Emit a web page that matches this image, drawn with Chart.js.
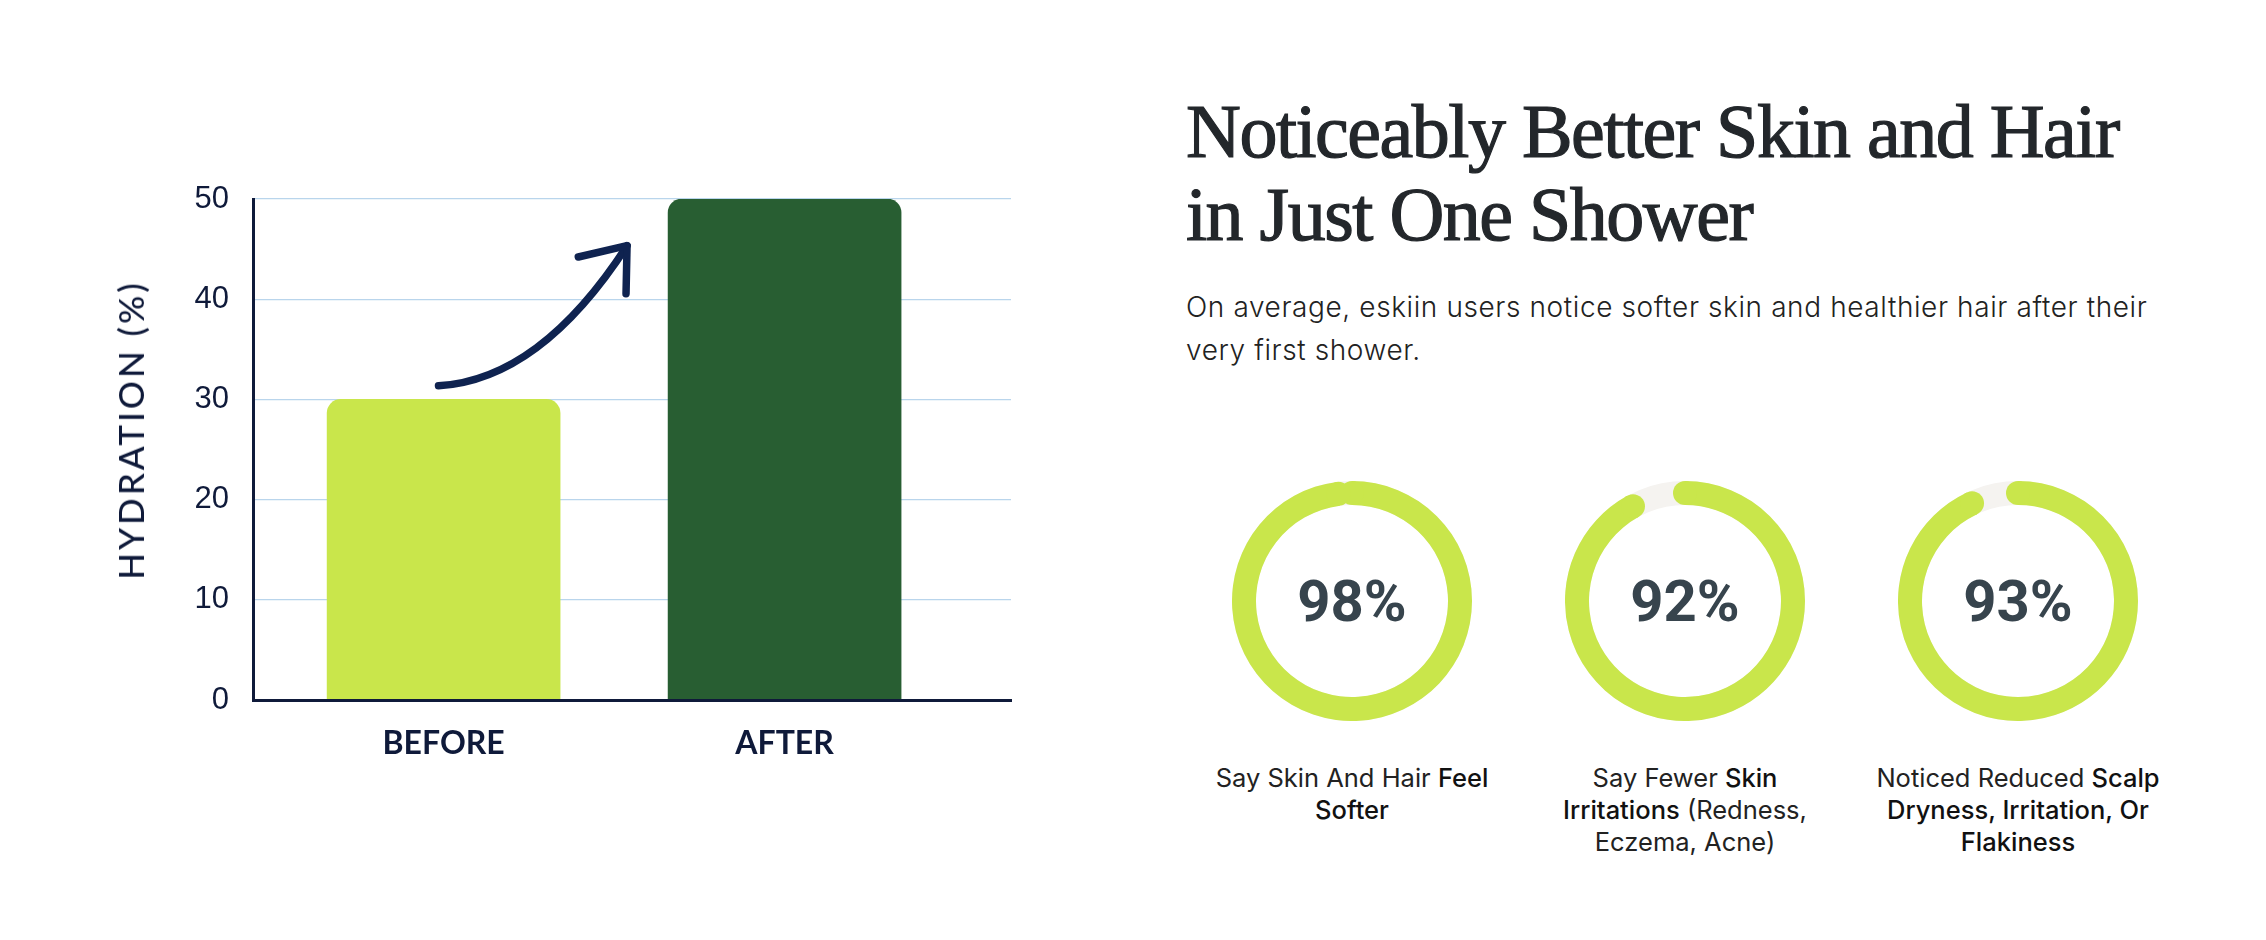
<!DOCTYPE html>
<html>
<head>
<meta charset="utf-8">
<script src="https://cdn.jsdelivr.net/npm/chart.js@4.4.1/dist/chart.umd.min.js"></script>
<style>
  html, body { margin: 0; padding: 0; background: #ffffff; }
  body { width: 2266px; height: 940px; position: relative; overflow: hidden; }
  #barWrap { position: absolute; left: 0; top: 0; width: 1100px; height: 940px; }
  #yTitle {
    position: absolute; left: 130px; top: 430px; transform: translate(-50%, -50%) rotate(-90deg);
    font-family: 'Lato', 'Liberation Sans', sans-serif; font-size: 35px; font-weight: 500;
    letter-spacing: 3px; color: #0f1a3a; white-space: nowrap;
  }
  #title {
    position: absolute; left: 1186px; top: 90px;
    font-family: 'Liberation Serif', serif; font-size: 76px; line-height: 83px;
    letter-spacing: -1.5px; color: #23272b; white-space: nowrap;
    -webkit-text-stroke: 1.2px #23272b;
  }
  #sub {
    position: absolute; left: 1186px; top: 286px;
    font-family: 'Inter', 'Noto Sans', sans-serif; font-size: 28px; font-weight: 300; line-height: 43px;
    letter-spacing: 0.6px; color: #222222; white-space: nowrap;
  }
  .donut { position: absolute; width: 240px; height: 240px; top: 481px; }
  .pct {
    position: absolute; left: 0; top: 0; width: 240px; height: 240px;
    display: flex; align-items: center; justify-content: center;
    font-family: 'Roboto', sans-serif; font-weight: 700; font-size: 58px; line-height: 1; color: #37444d;
  }
  .cap {
    position: absolute; width: 380px; top: 762px; text-align: center;
    font-family: 'Inter', 'Noto Sans', sans-serif; font-size: 25.5px; font-weight: 400; line-height: 32px;
    color: #222222; white-space: nowrap;
  }
  .cap b { font-weight: 500; color: #111; }
</style>
</head>
<body>
<div id="barWrap"><canvas id="bar"></canvas></div>
<div id="yTitle">HYDRATION (%)</div>

<div id="title">Noticeably Better Skin and Hair<br>in Just One Shower</div>
<div id="sub">On average, eskiin users notice softer skin and healthier hair after their<br>very first shower.</div>

<div id="donuts"></div>

<script>
// ---------- data ----------
const categories = ['BEFORE', 'AFTER'];
const hydration = [30, 50];
const yTicks = [0, 10, 20, 30, 40, 50];

const percentages = [98, 92, 93];
const captions = [
  'Say Skin And Hair <b>Feel</b><br><b>Softer</b>',
  'Say Fewer <b>Skin</b><br><b>Irritations</b> (Redness,<br>Eczema, Acne)',
  'Noticed Reduced <b>Scalp</b><br><b>Dryness, Irritation, Or</b><br><b>Flakiness</b>'
];

// ---------- styles ----------
const NAVY = '#0f1a3a';
const LIME = '#c9e64b';
const GREEN = '#285e32';
const TRACK = '#f5f3f0';

// ---------- bar chart ----------
const arrowPlugin = {
  id: 'arrow',
  afterDatasetsDraw(chart) {
    const xs = chart.scales.x, ys = chart.scales.y;
    const P = (u, v) => [xs.getPixelForValue(u), ys.getPixelForValue(v)];
    const p0 = P(-0.015, 31.36), c = P(0.283, 31.96), p2 = P(0.538, 45.34);
    const a1 = P(0.395, 44.21), a2 = P(0.535, 40.54);
    const ctx = chart.ctx;
    ctx.save();
    ctx.strokeStyle = '#0f2350';
    ctx.lineWidth = 7.5;
    ctx.lineCap = 'round';
    ctx.lineJoin = 'round';
    ctx.beginPath();
    ctx.moveTo(p0[0], p0[1]);
    ctx.quadraticCurveTo(c[0], c[1], p2[0], p2[1]);
    ctx.stroke();
    ctx.beginPath();
    ctx.moveTo(a1[0], a1[1]);
    ctx.lineTo(p2[0], p2[1]);
    ctx.lineTo(a2[0], a2[1]);
    ctx.stroke();
    ctx.restore();
  }
};

new Chart(document.getElementById('bar'), {
  type: 'bar',
  data: {
    datasets: [{
      data: hydration.map((v, i) => ({ x: i, y: v })),
      backgroundColor: [LIME, GREEN],
      borderWidth: 0,
      borderRadius: { topLeft: 14, topRight: 14, bottomLeft: 0, bottomRight: 0 },
      borderSkipped: 'bottom',
      barThickness: 233
    }]
  },
  options: {
    responsive: true,
    maintainAspectRatio: false,
    animation: false,
    events: [],
    layout: { padding: { left: 0, top: 199, right: 89, bottom: 140 } },
    plugins: { legend: { display: false }, tooltip: { enabled: false } },
    scales: {
      x: {
        type: 'linear',
        offset: false,
        bounds: 'ticks',
        min: -0.559,
        max: 1.664,
        grid: { display: false, offset: false },
        border: { display: true, color: NAVY, width: 3, z: 1 },
        afterBuildTicks: (s) => { s.ticks = categories.map((c, i) => ({ value: i })); },
        afterFit: (s) => { s.height = 100; },
        ticks: {
          callback: (v) => categories[v],
          color: NAVY,
          padding: 16,
          maxRotation: 0,
          font: { family: "'Lato', 'Liberation Sans', sans-serif", size: 32, weight: 'bold' }
        }
      },
      y: {
        min: 0,
        max: 50,
        afterBuildTicks: (s) => { s.ticks = yTicks.map(v => ({ value: v })); },
        afterFit: (s) => { s.width = 253; },
        grid: { color: '#b9d5ec', lineWidth: 1.3, drawTicks: false },
        border: { display: true, color: NAVY, width: 3 },
        ticks: {
          color: NAVY,
          padding: 24,
          font: { family: "'Liberation Sans', sans-serif", size: 31 }
        }
      }
    }
  },
  plugins: [arrowPlugin]
});

// ---------- donuts ----------
const ringPlugin = {
  id: 'ring',
  beforeDatasetsDraw(chart) {
    const arc = chart.getDatasetMeta(0).data[0];
    if (!arc) return;
    const ctx = chart.ctx;
    ctx.save();
    ctx.fillStyle = TRACK;
    ctx.beginPath();
    ctx.arc(arc.x, arc.y, arc.outerRadius, 0, Math.PI * 2);
    ctx.arc(arc.x, arc.y, arc.innerRadius, Math.PI * 2, 0, true);
    ctx.closePath();
    ctx.fill();
    ctx.restore();
  },
  afterDatasetsDraw(chart) {
    const arc = chart.getDatasetMeta(0).data[0];
    if (!arc) return;
    const ctx = chart.ctx;
    const rm = (arc.innerRadius + arc.outerRadius) / 2;
    const rc = (arc.outerRadius - arc.innerRadius) / 2;
    ctx.save();
    ctx.fillStyle = LIME;
    [arc.startAngle, arc.endAngle].forEach(a => {
      ctx.beginPath();
      ctx.arc(arc.x + rm * Math.cos(a), arc.y + rm * Math.sin(a), rc, 0, Math.PI * 2);
      ctx.fill();
    });
    ctx.restore();
  }
};

const donutCenters = [1352, 1685, 2018];
const host = document.getElementById('donuts');
percentages.forEach((p, i) => {
  const wrap = document.createElement('div');
  wrap.className = 'donut';
  wrap.style.left = (donutCenters[i] - 120) + 'px';
  const cv = document.createElement('canvas');
  wrap.appendChild(cv);
  const label = document.createElement('div');
  label.className = 'pct';
  label.textContent = p + '%';
  wrap.appendChild(label);
  host.appendChild(wrap);

  const cap = document.createElement('div');
  cap.className = 'cap';
  cap.style.left = (donutCenters[i] - 190) + 'px';
  cap.innerHTML = captions[i];
  host.appendChild(cap);

  new Chart(cv, {
    type: 'doughnut',
    data: {
      datasets: [{
        data: [p, 100 - p],
        backgroundColor: [LIME, 'rgba(0,0,0,0)'],
        borderWidth: 0
      }]
    },
    options: {
      responsive: true,
      maintainAspectRatio: false,
      animation: false,
      events: [],
      cutout: '80%',
      plugins: { legend: { display: false }, tooltip: { enabled: false } }
    },
    plugins: [ringPlugin]
  });
});
</script>
</body>
</html>
